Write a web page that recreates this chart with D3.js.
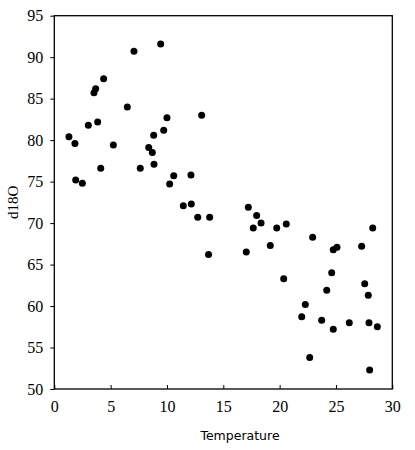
<!DOCTYPE html>
<html>
<head>
<meta charset="utf-8">
<script src="https://cdn.jsdelivr.net/npm/d3@7"></script>
<style>
  body { margin: 0; background: #fff; }
</style>
</head>
<body>
<svg></svg>
<script>
var width = 415;
var height = 450;

// data
var temperature = [1.30, 1.83, 1.90, 2.49, 3.02, 3.52, 3.67, 3.85, 4.12, 4.38,
  5.24, 6.48, 7.07, 7.63, 8.38, 8.70, 8.82, 8.85, 9.44, 9.71,
  10.00, 10.24, 10.60, 11.45, 12.13, 12.16, 12.73, 13.08, 13.79, 13.69,
  17.22, 17.96, 17.66, 18.35, 19.74, 20.59, 17.04, 19.17, 22.93, 24.76,
  25.09, 27.28, 28.26, 20.36, 24.62, 24.18, 27.55, 27.87, 22.28, 21.96,
  23.73, 24.76, 26.18, 27.93, 28.67, 22.67, 27.99];
var d18O = [80.4, 79.6, 75.2, 74.8, 81.8, 85.7, 86.2, 82.2, 76.6, 87.4,
  79.4, 84.0, 90.7, 76.6, 79.1, 78.5, 80.6, 77.1, 91.6, 81.2,
  82.7, 74.7, 75.7, 72.1, 75.8, 72.3, 70.7, 83.0, 70.7, 66.2,
  71.9, 70.9, 69.4, 70.0, 69.4, 69.9, 66.5, 67.3, 68.3, 66.8,
  67.1, 67.2, 69.4, 63.3, 64.0, 61.9, 62.7, 61.3, 60.2, 58.7,
  58.3, 57.2, 58.0, 58.0, 57.5, 53.8, 52.3];
var xTicks = [0, 5, 10, 15, 20, 25, 30];
var yTicks = [50, 55, 60, 65, 70, 75, 80, 85, 90, 95];

var margin = { left: 54.3, top: 15.7, right: 415 - 392.3, bottom: 450 - 389 };
var serif = "Liberation Serif";

var svg = d3.select("svg")
  .attr("width", width)
  .attr("height", height);

var x = d3.scaleLinear().domain([0, 30]).range([margin.left, width - margin.right]);
var y = d3.scaleLinear().domain([50, 95]).range([height - margin.bottom, margin.top]);

var points = temperature.map(function (t, i) { return { t: t, v: d18O[i] }; });

// frame
svg.append("rect")
  .attr("x", x(0))
  .attr("y", y(95))
  .attr("width", x(30) - x(0))
  .attr("height", y(50) - y(95))
  .attr("fill", "none")
  .attr("stroke", "#000")
  .attr("stroke-width", 1.3);

// x axis, ticks inside
var xAxis = svg.append("g")
  .attr("transform", "translate(0," + y(50) + ")")
  .call(d3.axisBottom(x).tickValues(xTicks).tickSizeInner(-4).tickSizeOuter(0).tickPadding(12));
xAxis.select(".domain").remove();
xAxis.attr("font-family", serif).attr("font-size", 16);
xAxis.selectAll("text").attr("fill", "#000");

// y axis, ticks outside
var yAxis = svg.append("g")
  .attr("transform", "translate(" + x(0) + ",0)")
  .call(d3.axisLeft(y).tickValues(yTicks).tickSizeInner(4).tickSizeOuter(0).tickPadding(7));
yAxis.select(".domain").remove();
yAxis.attr("font-family", serif).attr("font-size", 16);
yAxis.selectAll("text").attr("fill", "#000");

// dots
svg.append("g").selectAll("circle")
  .data(points)
  .enter().append("circle")
  .attr("cx", function (d) { return x(d.t); })
  .attr("cy", function (d) { return y(d.v); })
  .attr("r", 3.5)
  .attr("fill", "#000");

// titles
svg.append("text")
  .attr("x", 240)
  .attr("y", 440)
  .attr("text-anchor", "middle")
  .attr("font-family", "DejaVu Sans")
  .attr("font-size", 12.5)
  .text("Temperature");

svg.append("text")
  .attr("transform", "translate(18," + ((y(50) + y(95)) / 2) + ") rotate(-90)")
  .attr("text-anchor", "middle")
  .attr("font-family", serif)
  .attr("font-size", 15)
  .text("d18O");
</script>
</body>
</html>
